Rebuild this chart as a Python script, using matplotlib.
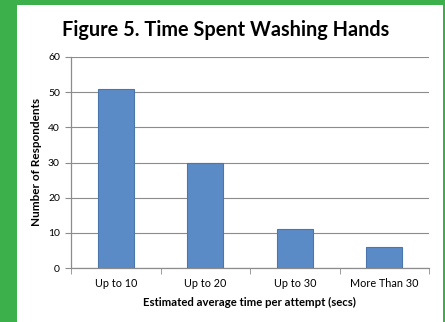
import matplotlib
matplotlib.use("Agg")
import matplotlib.pyplot as plt
from matplotlib.patches import Rectangle

categories = ["Up to 10", "Up to 20", "Up to 30", "More Than 30"]
values = [51, 30, 11, 6]
yticks = [0, 10, 20, 30, 40, 50, 60]

W, H = 445, 322
fig = plt.figure(figsize=(W/100, H/100), dpi=100)
fig.patch.set_facecolor("#3cb04b")
fig.patches.append(Rectangle((17/W, 0), (443-17)/W, (H-5)/H, transform=fig.transFigure,
                             facecolor="white", edgecolor="none", zorder=-5))

font = ["Lato", "DejaVu Sans"]
ax = fig.add_axes([71/W, 1-268/H, (429-71)/W, (268-57)/H])
ax.set_zorder(2)
ax.set_facecolor("none")
x = list(range(len(categories)))
ax.bar(x, values, width=0.4, color="#5b8bc6", edgecolor="#4a76ab", linewidth=0.8, zorder=3)
ax.set_xlim(-0.5, len(categories)-0.5)
ax.set_ylim(0, 60)
ax.set_yticks(yticks)
ax.set_yticklabels([str(v) for v in yticks], fontsize=7.5, family=font)
ax.yaxis.grid(True, color="#8c8c8c", linewidth=0.8, zorder=0)
ax.set_xticks(x)
ax.set_xticklabels(categories, fontsize=7.8, family=font)
ax.set_xticks([i-0.5 for i in range(len(categories)+1)], minor=True)
ax.tick_params(axis="x", which="major", length=0, pad=7)
ax.tick_params(axis="x", which="minor", length=4, color="#8c8c8c")
ax.tick_params(axis="y", length=4, color="#8c8c8c", pad=4)
for s in ["top", "right"]:
    ax.spines[s].set_visible(False)
for s in ["left", "bottom"]:
    ax.spines[s].set_color("#8c8c8c")
    ax.spines[s].set_linewidth(0.9)
ax.set_axisbelow(True)

fig.text(226/W, 1-30/H, "Figure 5. Time Spent Washing Hands", ha="center", va="center",
         fontsize=14.3, fontweight="bold", family=font)
fig.text(37/W, 1-162/H, "Number of Respondents", ha="center", va="center", rotation=90,
         fontsize=8.5, fontweight="bold", family=font)
fig.text(249/W, 1-302/H, "Estimated average time per attempt (secs)", ha="center", va="center",
         fontsize=8.2, fontweight="bold", family=font)

fig.savefig("out.png", dpi=100, facecolor=fig.get_facecolor())
